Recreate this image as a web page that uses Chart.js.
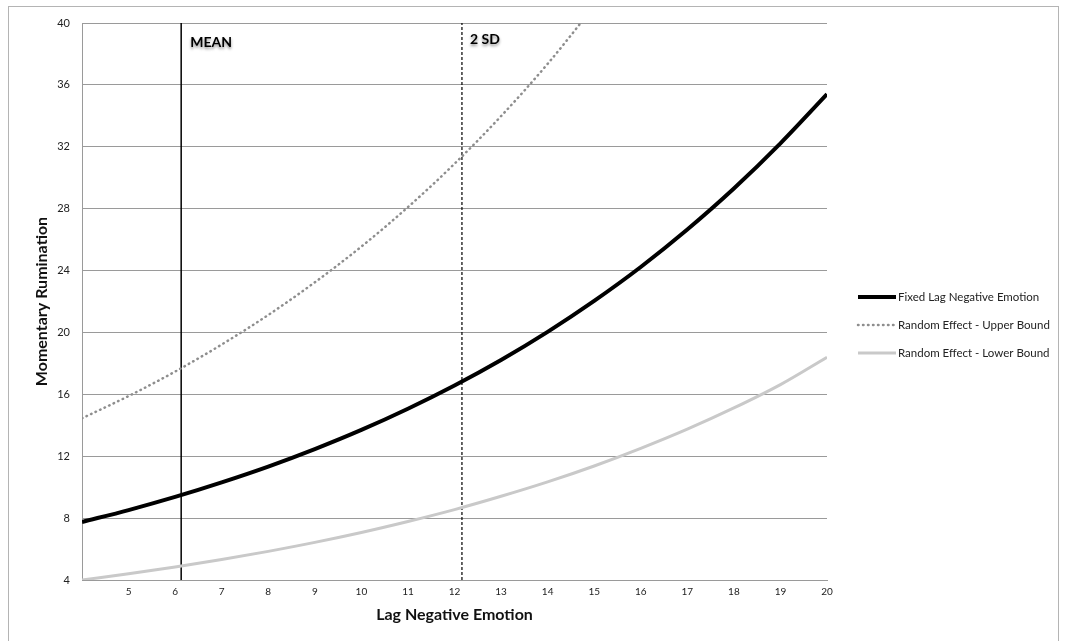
<!DOCTYPE html>
<html lang="en">
<head>
    <meta charset="UTF-8">
    <title>Momentary Rumination</title>
    <style>
        body {
            margin: 0;
            background: #fff;
            font-family: 'Lato', sans-serif;
        }

        .frame {
            position: absolute;
            left: 8px;
            top: 6px;
            width: 1051px;
            height: 660px;
            border: 1px solid #b4b4b4;
            box-sizing: border-box;
        }

        .chart-container {
            position: absolute;
            left: 0;
            top: 0;
            width: 1068px;
            height: 641px;
        }
    </style>
</head>
<body>
    <div class="frame"></div>
    <div class="chart-container">
        <canvas id="ruminationChart"></canvas>
    </div>

    <script src="https://cdn.jsdelivr.net/npm/chart.js"></script>
    <script>
        // values
        const lagEmotion = [4, 5, 6, 7, 8, 9, 10, 11, 12, 13, 14, 15, 16, 17, 18, 19, 20];
        const fixedLag = [7.75, 8.52, 9.37, 10.31, 11.33, 12.46, 13.70, 15.07, 16.57, 18.22, 20.04, 22.04, 24.23, 26.65, 29.30, 32.22, 35.40];
        const upperBound = [14.45, 15.89, 17.47, 19.22, 21.13, 23.24, 25.55, 28.10, 30.90, 33.98, 37.36, 41.09];
        const lowerBound = [4.00, 4.40, 4.84, 5.32, 5.85, 6.43, 7.07, 7.78, 8.55, 9.41, 10.34, 11.37, 12.51, 13.75, 15.12, 16.63, 18.40];
        const yTicks = [4, 8, 12, 16, 20, 24, 28, 32, 36, 40];
        const meanLag = 6.13;
        const twoSdLag = 12.16;

        const toPoints = (ys) => ys.map((y, i) => ({ x: lagEmotion[i], y: y }));

        // MEAN / 2 SD captions next to the reference lines
        const refLabels = {
            id: 'refLabels',
            afterDatasetsDraw(chart) {
                const { ctx, scales } = chart;
                const top = scales.y.getPixelForValue(40);
                ctx.save();
                ctx.font = 'bold 14px Lato';
                ctx.fillStyle = '#000';
                ctx.textBaseline = 'middle';
                ctx.shadowColor = 'rgba(0, 0, 0, 0.45)';
                ctx.shadowBlur = 3;
                ctx.shadowOffsetY = 2;
                ctx.fillText('MEAN', scales.x.getPixelForValue(meanLag) + 9, top + 19);
                ctx.fillText('2 SD', scales.x.getPixelForValue(twoSdLag) + 8, top + 16);
                ctx.restore();
            }
        };

        // legend to the right of the plot, line samples like the original
        const sideLegend = {
            id: 'sideLegend',
            afterDraw(chart) {
                const { ctx, chartArea } = chart;
                const x0 = chartArea.right + 31;
                const mid = (chartArea.top + chartArea.bottom) / 2;
                ctx.save();
                ctx.font = '11.5px Lato';
                ctx.textBaseline = 'middle';
                chart.data.datasets.slice(0, 3).forEach((ds, i) => {
                    const y = mid - 4.5 + i * 28;
                    ctx.beginPath();
                    ctx.strokeStyle = ds.borderColor;
                    ctx.lineWidth = ds.borderWidth;
                    ctx.lineCap = ds.borderCapStyle || 'butt';
                    ctx.setLineDash(ds.borderDash || []);
                    ctx.moveTo(x0, y);
                    ctx.lineTo(x0 + 38, y);
                    ctx.stroke();
                    ctx.setLineDash([]);
                    ctx.fillStyle = '#222';
                    ctx.fillText(ds.label, x0 + 40, y);
                });
                ctx.restore();
            }
        };

        const ctx = document.getElementById('ruminationChart').getContext('2d');
        new Chart(ctx, {
            type: 'line',
            data: {
                datasets: [
                    {
                        label: 'Fixed Lag Negative Emotion',
                        data: toPoints(fixedLag),
                        borderColor: '#000',
                        borderWidth: 4,
                        pointRadius: 0,
                        cubicInterpolationMode: 'monotone'
                    },
                    {
                        label: 'Random Effect - Upper Bound',
                        data: toPoints(upperBound),
                        borderColor: '#8e8e8e',
                        borderWidth: 2.5,
                        borderDash: [0.5, 4.5],
                        borderCapStyle: 'round',
                        pointRadius: 0,
                        cubicInterpolationMode: 'monotone'
                    },
                    {
                        label: 'Random Effect - Lower Bound',
                        data: toPoints(lowerBound),
                        borderColor: '#c9c9c9',
                        borderWidth: 3,
                        pointRadius: 0,
                        cubicInterpolationMode: 'monotone'
                    },
                    {
                        label: 'MEAN',
                        data: [{ x: meanLag, y: 4 }, { x: meanLag, y: 40 }],
                        borderColor: '#000',
                        borderWidth: 1.5,
                        pointRadius: 0
                    },
                    {
                        label: '2 SD',
                        data: [{ x: twoSdLag, y: 4 }, { x: twoSdLag, y: 40 }],
                        borderColor: '#000',
                        borderWidth: 1.2,
                        borderDash: [3, 2],
                        pointRadius: 0
                    }
                ]
            },
            options: {
                responsive: true,
                maintainAspectRatio: false,
                animation: false,
                layout: {
                    padding: { left: 28, top: 23, right: 241, bottom: 17 }
                },
                plugins: {
                    tooltip: { enabled: false },
                    legend: { display: false }
                },
                scales: {
                    x: {
                        type: 'linear',
                        min: 4,
                        max: 20,
                        afterFit: (scale) => { scale.height = 44; },
                        grid: { display: false, drawTicks: false },
                        border: { display: true, color: '#9a9a9a', width: 1 },
                        ticks: {
                            stepSize: 1,
                            padding: 6,
                            color: '#222',
                            font: { family: 'Lato', size: 10 },
                            callback: (v) => (v === 4 ? '' : v)
                        },
                        title: {
                            display: true,
                            text: 'Lag Negative Emotion',
                            color: '#111',
                            font: { family: 'Lato', size: 16, weight: 'bold' },
                            padding: { top: 0, bottom: 0 }
                        }
                    },
                    y: {
                        min: 4,
                        max: 40,
                        afterFit: (scale) => { scale.width = 54; },
                        afterBuildTicks: (axis) => {
                            axis.ticks = yTicks.map((v) => ({ value: v }));
                        },
                        grid: { color: '#9a9a9a', lineWidth: 1, drawTicks: false },
                        border: { display: true, color: '#9a9a9a', width: 1 },
                        ticks: {
                            padding: 12,
                            color: '#222',
                            font: { family: 'Lato', size: 11 }
                        },
                        title: {
                            display: true,
                            text: 'Momentary Rumination',
                            color: '#111',
                            font: { family: 'Lato', size: 16, weight: 'bold' },
                            padding: { top: 4, bottom: 0 }
                        }
                    }
                }
            },
            plugins: [refLabels, sideLegend]
        });
    </script>
</body>
</html>
